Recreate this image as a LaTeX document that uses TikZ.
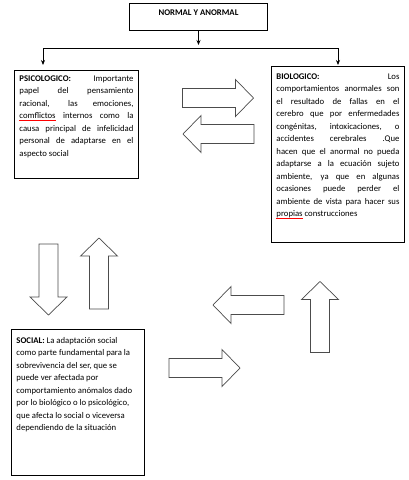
\documentclass[tikz,border=0pt]{standalone}
\usepackage{fontspec}
\setmainfont{Carlito}
\usetikzlibrary{arrows.meta}
\newlength{\anchoerror}
\newcommand{\ondaroja}[1]{\settowidth{\anchoerror}{#1}\rlap{\textcolor{red}{\rule[-2pt]{\anchoerror}{0.5pt}}}#1}
\tikzset{
  caja/.style={draw, line width=0.9pt, anchor=north west, inner xsep=5pt, font=\fontsize{8.7}{12.5}\selectfont},
  conector/.style={line width=0.8pt},
  flechita/.style={conector, -{Stealth[length=5pt,width=4pt]}},
  bloque/.style={draw=black!70, line width=0.7pt, fill=white},
  flecha/.pic={\draw[bloque] (-35.5,-9.5) -- (17.5,-9.5) -- (17.5,-18.5) -- (35.5,0) -- (17.5,18.5) -- (17.5,9.5) -- (-35.5,9.5) -- cycle;}
}
\begin{document}
\begin{tikzpicture}[x=1pt, y=-1pt]
\useasboundingbox (0,0) rectangle (409,480);
\node[draw, line width=0.9pt, anchor=north, minimum width=138pt, text height=6pt, text depth=8pt, inner ysep=6.5pt, font=\bfseries\fontsize{8.7}{10}\selectfont] (titulo) at (198.5,3) {NORMAL Y ANORMAL};
% cajas
\node[caja, inner ysep=5pt] (psico) at (14,70) {\parbox[t][98pt][t]{114pt}{\textbf{PSICOLOGICO:} Importante\linebreak
papel del pensamiento\linebreak
racional, las emociones,\linebreak
\ondaroja{comflictos} internos como la\linebreak
causa principal de infelicidad\linebreak
personal de adaptarse en el\linebreak
aspecto social}};
\node[caja, inner ysep=7pt] (bio) at (271,66) {\parbox[t][162pt][t]{123pt}{\textbf{BIOLOGICO:} Los\linebreak
comportamientos anormales son\linebreak
el resultado de fallas en el\linebreak
cerebro que por enfermedades\linebreak
congénitas, intoxicaciones, o\linebreak
accidentes cerebrales .Que\linebreak
hacen que el anormal no pueda\linebreak
adaptarse a la ecuación sujeto\linebreak
ambiente, ya que en algunas\linebreak
ocasiones puede perder el\linebreak
ambiente de vista para hacer sus\linebreak
\ondaroja{propias} construcciones}};
\node[caja, inner ysep=8pt] (social) at (11,329) {\parbox[t][130pt][t]{123pt}{\raggedright\textbf{SOCIAL:} La adaptación social\\
como parte fundamental para la\\
sobrevivencia del ser, que se\\
puede ver afectada por\\
comportamiento anómalos dado\\
por lo biológico o lo psicológico,\\
que afecta lo social o viceversa\\
dependiendo de la situación}};
% conectores
\coordinate (izq) at (43,48);
\coordinate (der) at (338,48);
\draw[flechita] (titulo.south) -- ([yshift=3pt]titulo.south |- izq);
\draw[conector] (izq) -- (der);
\draw[flechita] (izq) -- ([yshift=5pt]izq |- psico.north);
\draw[flechita] (der) -- ([yshift=1pt]der |- bio.north);
% flechas de bloque
\pic at (218,98) {flecha};
\pic[rotate=180] at (218.5,134) {flecha};
\pic[rotate=-90] at (48.5,279.5) {flecha};
\pic[rotate=90] at (99,273.5) {flecha};
\pic[rotate=180] at (248.5,305) {flecha};
\pic[rotate=90] at (320,317) {flecha};
\pic at (204.5,368) {flecha};
\end{tikzpicture}
\end{document}
